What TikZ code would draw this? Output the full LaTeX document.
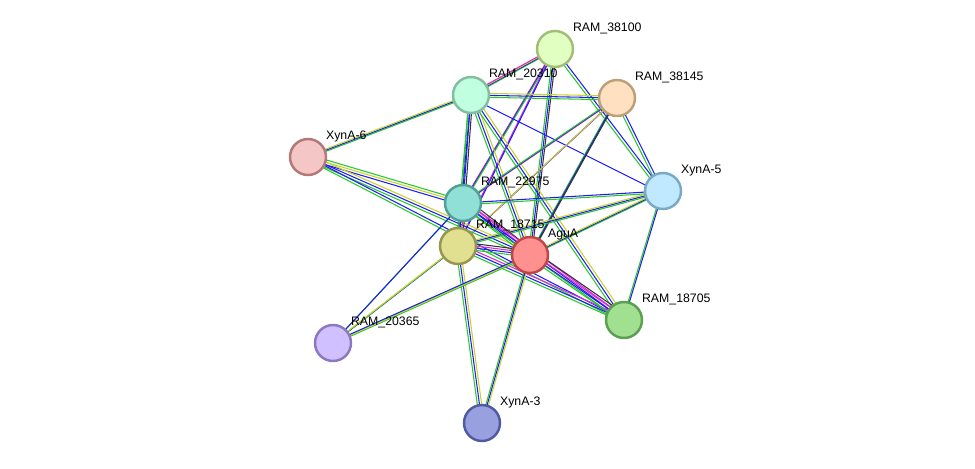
\documentclass[tikz,border=0pt]{standalone}
\usepackage{fontspec}
\setmainfont{Liberation Sans}
\begin{document}
\begin{tikzpicture}[x=0.02cm,y=-0.02cm,
 nd/.style={circle,draw,line width=1.4pt,minimum size=0.72cm,inner sep=0pt},
 lb/.style={font=\fontsize{7}{8}\selectfont,anchor=south west,inner sep=1pt},
 eg/.style={draw={rgb,255:red,40;green,200;blue,40},line width=0.6pt},
 eb/.style={draw={rgb,255:red,30;green,30;blue,240},line width=0.6pt},
 ey/.style={draw={rgb,255:red,200;green,210;blue,40},line width=0.6pt},
 em/.style={draw={rgb,255:red,220;green,40;blue,220},line width=0.6pt},
 ek/.style={draw=black!80,line width=0.6pt}]
\useasboundingbox (0,0) rectangle (975,469);
\def\E#1#2#3{\foreach \c [count=\i] in {#3}{\pgfmathsetmacro\o{(\i-2)*1.1}
 \draw[\c,transform canvas={shift={(\o pt,\o pt)}}] (#1) -- (#2);}}
\coordinate (p38100) at (555,49);
\coordinate (p20310) at (471,95);
\coordinate (p38145) at (617,98);
\coordinate (pX6) at (308,157);
\coordinate (pX5) at (663,191);
\coordinate (p22975) at (463,203);
\coordinate (p18715) at (458,246);
\coordinate (pAgu) at (530,255);
\coordinate (p18705) at (624,320);
\coordinate (p20365) at (333,343);
\coordinate (pX3) at (482,423);
\E{p38100}{p20310}{eg,eb,ey,em}
\E{p38100}{p22975}{em,eb,eg}
\E{p38100}{p18715}{em,eb}
\E{p38100}{pAgu}{eg,eb,ek}
\E{p38100}{pX5}{eg,eb}
\E{p20310}{p38145}{eg,eb,ey}
\E{p20310}{pX6}{eg,eb,ey}
\E{p20310}{p22975}{eg,eb,ek}
\E{p20310}{p18715}{eg,eb}
\E{p20310}{pAgu}{eg,eb,ey}
\E{p20310}{pX5}{eb}
\E{p20310}{p18705}{eg,eb,ey}
\E{p38145}{p22975}{em,eb,eg}
\E{p38145}{p18715}{em,eb,ey}
\E{p38145}{pAgu}{eg,eb,ek}
\E{p38145}{pX5}{eg,eb}
\E{pX6}{p22975}{eb,ey,eg}
\E{pX6}{pAgu}{eg,eb,ey}
\E{pX6}{p18705}{eg,eb}
\E{pX5}{p22975}{eg,eb}
\E{pX5}{p18715}{eg,eb,ey}
\E{pX5}{pAgu}{eg,eb,ey}
\E{pX5}{p18705}{eg,eb}
\E{p22975}{p18715}{eg,eb,em,ek}
\E{p22975}{pAgu}{eg,eb,em,ek}
\E{p22975}{p18705}{eg,eb,em}
\E{p22975}{p20365}{eg,eb}
\E{p18715}{pAgu}{eg,eb,em,ek}
\E{p18715}{p18705}{eg,eb,em}
\E{p18715}{p20365}{eb,eg,ey}
\E{p18715}{pX3}{eg,eb,ey}
\E{pAgu}{p18705}{eg,eb,em,ek}
\E{pAgu}{p20365}{eg,ey,eb}
\E{pAgu}{pX3}{eg,eb,ey}
\node[nd,fill={rgb,255:red,224;green,255;blue,192},draw={rgb,255:red,160;green,190;blue,120}] (a) at (p38100) {};
\node[nd,fill={rgb,255:red,192;green,255;blue,224},draw={rgb,255:red,130;green,190;blue,160}] (b) at (p20310) {};
\node[nd,fill={rgb,255:red,255;green,224;blue,192},draw={rgb,255:red,190;green,160;blue,120}] (c) at (p38145) {};
\node[nd,fill={rgb,255:red,245;green,198;blue,198},draw={rgb,255:red,180;green,120;blue,120}] (d) at (pX6) {};
\node[nd,fill={rgb,255:red,192;green,232;blue,255},draw={rgb,255:red,120;green,170;blue,200}] (e) at (pX5) {};
\node[nd,fill={rgb,255:red,144;green,224;blue,216},draw={rgb,255:red,80;green,160;blue,150}] (f) at (p22975) {};
\node[nd,fill={rgb,255:red,224;green,224;blue,144},draw={rgb,255:red,150;green,150;blue,80}] (g) at (p18715) {};
\node[nd,fill={rgb,255:red,255;green,144;blue,144},draw={rgb,255:red,190;green,70;blue,70}] (h) at (pAgu) {};
\node[nd,fill={rgb,255:red,160;green,224;blue,144},draw={rgb,255:red,90;green,160;blue,80}] (i) at (p18705) {};
\node[nd,fill={rgb,255:red,208;green,192;blue,255},draw={rgb,255:red,140;green,120;blue,190}] (j) at (p20365) {};
\node[nd,fill={rgb,255:red,152;green,160;blue,224},draw={rgb,255:red,80;green,90;blue,160}] (k) at (pX3) {};
\node[lb] at (571,36) {RAM\_38100};
\node[lb] at (487,82) {RAM\_20310};
\node[lb] at (633,85) {RAM\_38145};
\node[lb] at (324,144) {XynA-6};
\node[lb] at (679,178) {XynA-5};
\node[lb] at (479,190) {RAM\_22975};
\node[lb] at (474,233) {RAM\_18715};
\node[lb] at (546,242) {AguA};
\node[lb] at (640,307) {RAM\_18705};
\node[lb] at (349,330) {RAM\_20365};
\node[lb] at (498,410) {XynA-3};
\end{tikzpicture}
\end{document}
